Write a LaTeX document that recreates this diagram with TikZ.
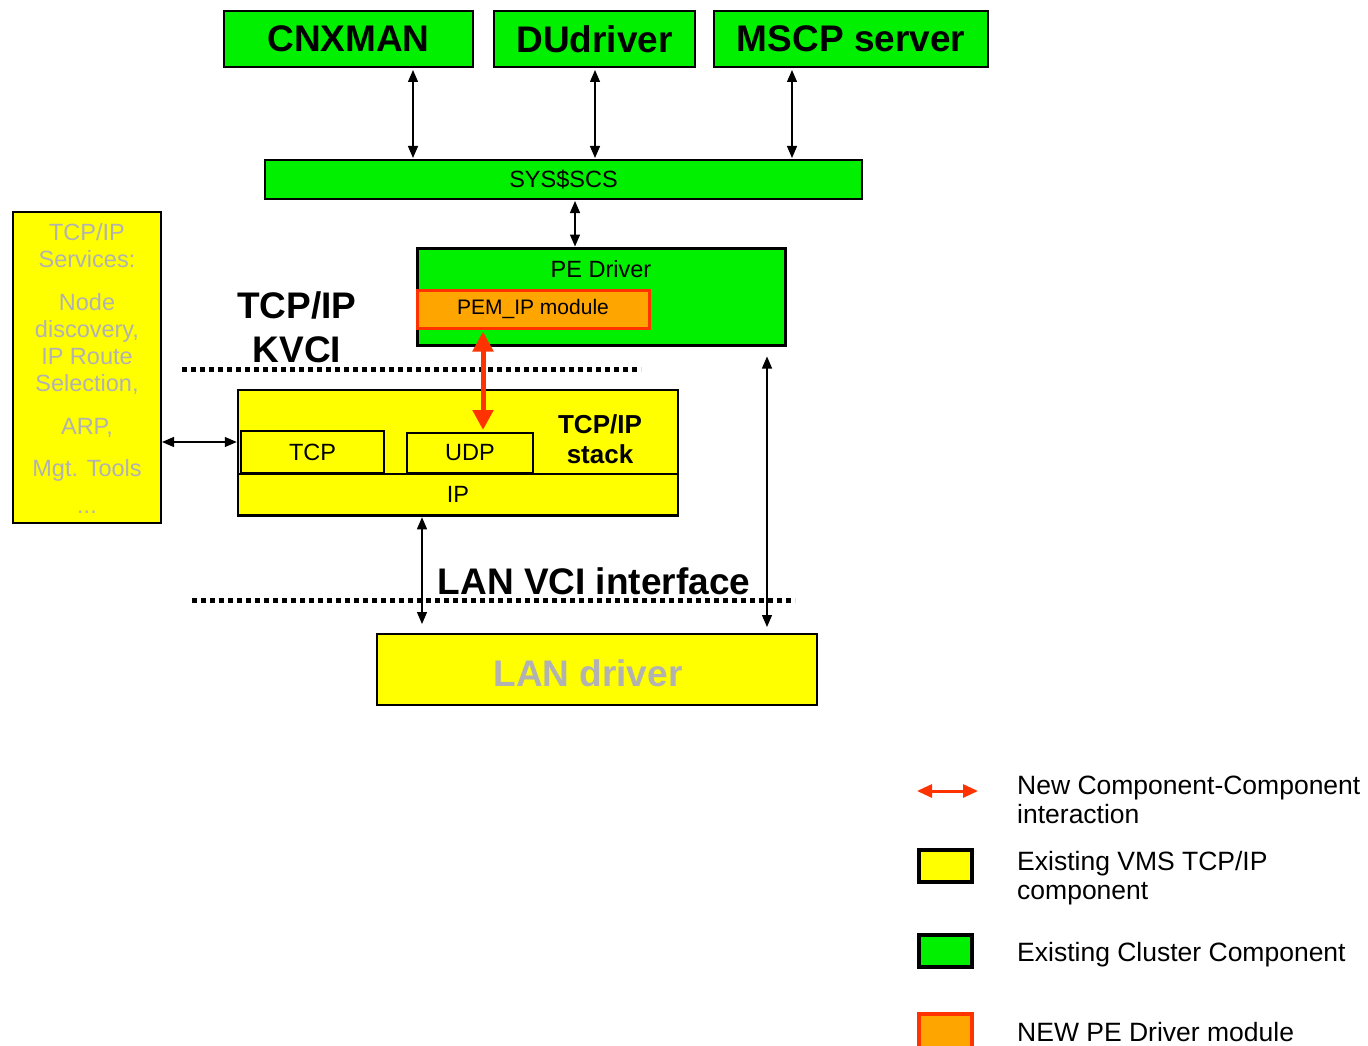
\documentclass[tikz,border=0pt]{standalone}
\usepackage{fontspec}
\setmainfont{Liberation Sans}
\usepackage{xcolor}
\usepackage{tikz}
\usetikzlibrary{arrows.meta}
\definecolor{boxgreen}{RGB}{0,240,0}
\definecolor{boxyellow}{RGB}{255,255,0}
\definecolor{neworange}{RGB}{255,165,0}
\definecolor{newred}{RGB}{255,51,0}
\definecolor{fadegray}{RGB}{178,178,178}

\begin{document}
\begin{tikzpicture}[x=1pt,y=-1pt,
    greenbox/.style={draw=black,line width=2pt,fill=boxgreen,inner sep=0pt},
    yellowbox/.style={draw=black,line width=2pt,fill=boxyellow,inner sep=0pt},
    title/.style={font=\fontsize{37}{44}\selectfont\bfseries},
    plain/.style={font=\fontsize{23.5}{27}\selectfont},
    dbl/.style={{Triangle[width=10pt,length=12pt]}-{Triangle[width=10pt,length=12pt]},line width=1.3pt},
    newarrow/.style={{Triangle[width=20pt,length=20pt]}-{Triangle[width=20pt,length=20pt]},line width=5pt,draw=newred,fill=newred},
    dots/.style={line width=5pt,dash pattern=on 5pt off 4pt},
    legendtext/.style={font=\fontsize{26.5}{29}\selectfont,anchor=west,align=left,inner sep=0pt}
]
\useasboundingbox (0,0) rectangle (1368,1046);

% cluster components
\node[greenbox,title,minimum width=249pt,minimum height=56pt] (cnxman) at (348.5,39) {CNXMAN};
\node[greenbox,title,minimum width=201pt,minimum height=56pt] (dudriver) at (594.5,39) {DUdriver};
\node[greenbox,title,minimum width=274pt,minimum height=56pt] (mscp) at (851,39) {MSCP server};
\node[greenbox,plain,minimum width=597pt,minimum height=39pt] (sysscs) at (563.5,179.5) {SYS\$SCS};

% PE driver
\node[greenbox,line width=3pt,minimum width=368pt,minimum height=97pt] (pedriver) at (601,296.5) {};
\node[plain] (petitle) at (601,269) {PE Driver};
\node[draw=newred,line width=3pt,fill=neworange,inner sep=0pt,font=\fontsize{21}{24}\selectfont,
      minimum width=232pt,minimum height=38pt] (pemip) at (533,309) {PEM\_IP module};

% TCP/IP side
\node[yellowbox,minimum width=148pt,minimum height=311pt] (services) at (87,367.5) {};
\node[plain,text=fadegray,align=center,anchor=north] (svctext) at (87,220)
  {TCP/IP\\Services:\\[16pt]Node\\discovery,\\IP Route\\Selection,\\[16pt]ARP,\\[15pt]Mgt. Tools\\[10pt]...};
\node[title,align=center] (kvci) at (297,327) {TCP/IP\\KVCI};

\node[yellowbox,line width=2.5pt,minimum width=440pt,minimum height=126pt] (stack) at (458,453) {};
\node[yellowbox,line width=2.5pt,plain,minimum width=440pt,minimum height=41pt] (ip) at (458,494.5) {IP};
\node[yellowbox,plain,minimum width=143pt,minimum height=42pt] (tcp) at (312.5,452) {TCP};
\node[yellowbox,plain,minimum width=126pt,minimum height=40pt] (udp) at (470,453) {UDP};
\node[font=\fontsize{26}{30}\selectfont\bfseries,align=center] (stacktitle) at (600,439) {TCP/IP\\stack};

% LAN side
\node[title] (lanvci) at (594,581) {LAN VCI interface};
\node[yellowbox,minimum width=440pt,minimum height=71pt] (landriver) at (597,669.5) {};
\node[title,text=fadegray] (lantext) at (588,673) {LAN driver};

% interface lines
\draw[dots] (182,369) -- (641,369);
\draw[dots] (192,600) -- (795,600);

% connectors
\draw[dbl,shorten <=2pt,shorten >=1pt] ([xshift=64.5pt]cnxman.south) -- ([xshift=64.5pt]cnxman.south |- sysscs.north);
\draw[dbl,shorten <=2pt,shorten >=1pt] ([xshift=0.5pt]dudriver.south) -- ([xshift=0.5pt]dudriver.south |- sysscs.north);
\draw[dbl,shorten <=2pt,shorten >=1pt] ([xshift=-59pt]mscp.south) -- ([xshift=-59pt]mscp.south |- sysscs.north);
\draw[dbl,shorten <=1pt] ([xshift=11.5pt]sysscs.south) -- ([xshift=11.5pt]sysscs.south |- pedriver.north);
\draw[newarrow,shorten <=2pt,shorten >=2pt] ([xshift=-50pt]pemip.south) -- ([xshift=-50pt]pemip.south |- udp.north);
\coordinate (svcarrow) at ([yshift=11pt]stack.west);
\draw[dbl] (svcarrow -| services.east) -- (svcarrow);
\draw[dbl,shorten <=1pt,shorten >=9pt] ([xshift=-36pt]ip.south) -- ([xshift=-36pt]ip.south |- landriver.north);
\draw[dbl,shorten <=10pt,shorten >=6pt] ([xshift=166pt]pedriver.south) -- ([xshift=166pt]pedriver.south |- landriver.north);

% legend
\coordinate (legA) at (917,791);
\coordinate (legB) at (978,791);
\draw[newarrow,line width=3pt,{Triangle[width=13pt,length=15pt]}-{Triangle[width=13pt,length=15pt]}] (legA) -- (legB);
\node[legendtext] (legnew) at (1017,800) {New Component-Component\\interaction};
\node[yellowbox,line width=3.5pt,minimum width=53pt,minimum height=32pt] (legyellow) at (945.5,866) {};
\node[legendtext] (legtcp) at (1017,878) {Existing VMS TCP/IP\\component};
\node[greenbox,line width=3.5pt,minimum width=53pt,minimum height=32pt] (leggreen) at (945.5,951) {};
\node[legendtext] (legcluster) at (1017,955) {Existing Cluster Component};
\node[draw=newred,fill=neworange,line width=3.5pt,inner sep=0pt,minimum width=53pt,minimum height=38pt] (legorange) at (945.5,1033) {};
\node[legendtext] (legpe) at (1017,1032) {NEW PE Driver module};
\end{tikzpicture}
\end{document}
